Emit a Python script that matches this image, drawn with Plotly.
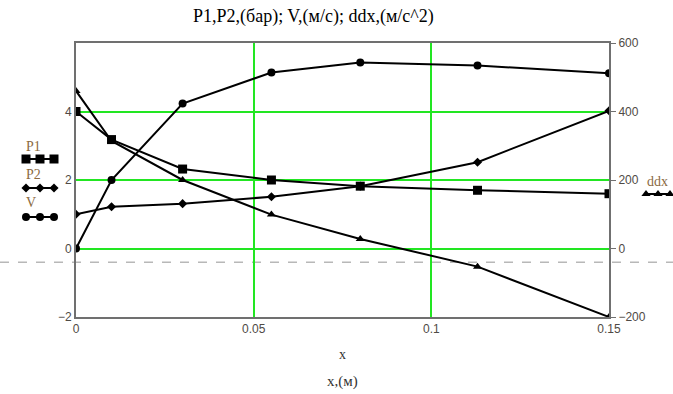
import plotly.graph_objects as go

# ---- data ----
x_vals = [0, 0.01, 0.03, 0.055, 0.08, 0.113, 0.15]
P1 = [4.0, 3.18, 2.32, 2.0, 1.82, 1.70, 1.60]
P2 = [1.0, 1.22, 1.31, 1.51, 1.82, 2.52, 4.02]
V = [0.0, 2.0, 4.23, 5.14, 5.43, 5.34, 5.12]
ddx = [460, 314, 200, 99, 28, -53, -200]

x_ticks = [0, 0.05, 0.1, 0.15]
x_ticklabels = ["0", "0.05", "0.1", "0.15"]
yl_ticks = [-2, 0, 2, 4]
yr_ticks = [-200, 0, 200, 400, 600]
marker_level = -0.4  # dashed marker line (left-axis units)

title_text = "P1,P2,(бар); V,(м/с); ddx,(м/с^2)"
legend_names = ["P1", "P2", "V"]

W, H = 673, 394
L, R, T, B = 76, 609, 43, 317

LINE = dict(color="black", width=2)
SERIF = "Liberation Serif"
TICKFONT = dict(family="Liberation Sans", size=12, color="#4f4a45")
LABELCOL = "#8b6a42"


def px(xp):
    return xp / W


def py(yp):
    return 1 - yp / H


fig = go.Figure()

fig.add_trace(go.Scatter(x=x_vals, y=P1, mode="lines+markers", line=LINE,
                         marker=dict(symbol="square", size=9, color="black"), name="P1"))
fig.add_trace(go.Scatter(x=x_vals, y=P2, mode="lines+markers", line=LINE,
                         marker=dict(symbol="diamond", size=7, color="black"), name="P2"))
fig.add_trace(go.Scatter(x=x_vals, y=V, mode="lines+markers", line=LINE,
                         marker=dict(symbol="circle", size=8, color="black"), name="V"))
fig.add_trace(go.Scatter(x=x_vals, y=ddx, mode="lines+markers", line=LINE, yaxis="y2",
                         marker=dict(symbol="triangle-up", size=8, color="black"), name="ddx"))

# legend glyphs on a full-figure pixel axis
symbols = ["square", "diamond", "circle"]
sizes = [9, 7, 8]
glyph_y = [159, 188, 217]
text_y = [146, 174, 202]
for name, sym, sz, gy, ty in zip(legend_names, symbols, sizes, glyph_y, text_y):
    fig.add_trace(go.Scatter(x=[26, 40, 54], y=[gy] * 3, mode="lines+markers",
                             line=dict(color="black", width=2),
                             marker=dict(symbol=sym, size=sz, color="black"),
                             xaxis="x3", yaxis="y3", hoverinfo="skip"))
    fig.add_annotation(x=px(24), y=py(ty), xref="paper", yref="paper", text=name,
                       showarrow=False, xanchor="left", yanchor="middle",
                       font=dict(family=SERIF, size=14, color=LABELCOL))
fig.add_trace(go.Scatter(x=[646, 658, 670], y=[194] * 3, mode="lines+markers",
                         line=dict(color="black", width=2),
                         marker=dict(symbol="triangle-up", size=8, color="black"),
                         xaxis="x3", yaxis="y3", hoverinfo="skip"))
fig.add_annotation(x=px(645), y=py(181), xref="paper", yref="paper", text="ddx",
                   showarrow=False, xanchor="left", yanchor="middle",
                   font=dict(family=SERIF, size=14, color=LABELCOL))

# title and axis labels
fig.add_annotation(x=px(313), y=py(17), xref="paper", yref="paper", text=title_text,
                   showarrow=False, yanchor="middle",
                   font=dict(family=SERIF, size=18, color="black"))
fig.add_annotation(x=px((L + R) / 2), y=py(354), xref="paper", yref="paper", text="x",
                   showarrow=False, yanchor="middle",
                   font=dict(family=SERIF, size=14, color="#333"))
fig.add_annotation(x=px((L + R) / 2), y=py(381), xref="paper", yref="paper", text="x,(м)",
                   showarrow=False, yanchor="middle",
                   font=dict(family=SERIF, size=15, color="#333"))

# dashed marker line across the full width
fig.add_shape(type="line", xref="paper", yref="y", x0=0, x1=1,
              y0=marker_level, y1=marker_level,
              line=dict(color="#b8b8b8", width=1.5, dash="dash"), layer="below")

fig.update_layout(
    width=W, height=H, margin=dict(l=0, r=0, t=0, b=0, autoexpand=False),
    paper_bgcolor="white", plot_bgcolor="rgba(0,0,0,0)", showlegend=False,
    xaxis=dict(domain=[L / W, R / W], range=[0, 0.15], tickvals=x_ticks,
               ticktext=x_ticklabels, showgrid=True, gridcolor="#22e622", gridwidth=1.5,
               zeroline=False, showline=True, linecolor="#707070", linewidth=2,
               mirror=True, ticks="", tickfont=TICKFONT, anchor="y", automargin=False),
    yaxis=dict(domain=[(H - B) / H, (H - T) / H], range=[-2, 6], tickvals=yl_ticks,
               showgrid=True, gridcolor="#22e622", gridwidth=1.5, zeroline=False,
               showline=True, linecolor="#707070", linewidth=2, mirror=True,
               ticks="", tickfont=TICKFONT, anchor="x", tickformat="d", automargin=False),
    yaxis2=dict(range=[-200, 600], tickvals=yr_ticks,
                overlaying="y", side="right", showgrid=False, zeroline=False,
                showline=False, ticks="outside", ticklen=6, tickcolor="#707070",
                tickfont=TICKFONT, anchor="x", automargin=False),
    xaxis3=dict(domain=[0, 1], range=[0, W], visible=False, fixedrange=True,
                anchor="y3", automargin=False),
    yaxis3=dict(domain=[0, 1], range=[H, 0], visible=False, fixedrange=True,
                anchor="x3", automargin=False),
)

fig.write_html("out.html", config={"displayModeBar": False},
               post_script="document.body.style.margin='0';document.body.style.overflow='hidden';")
